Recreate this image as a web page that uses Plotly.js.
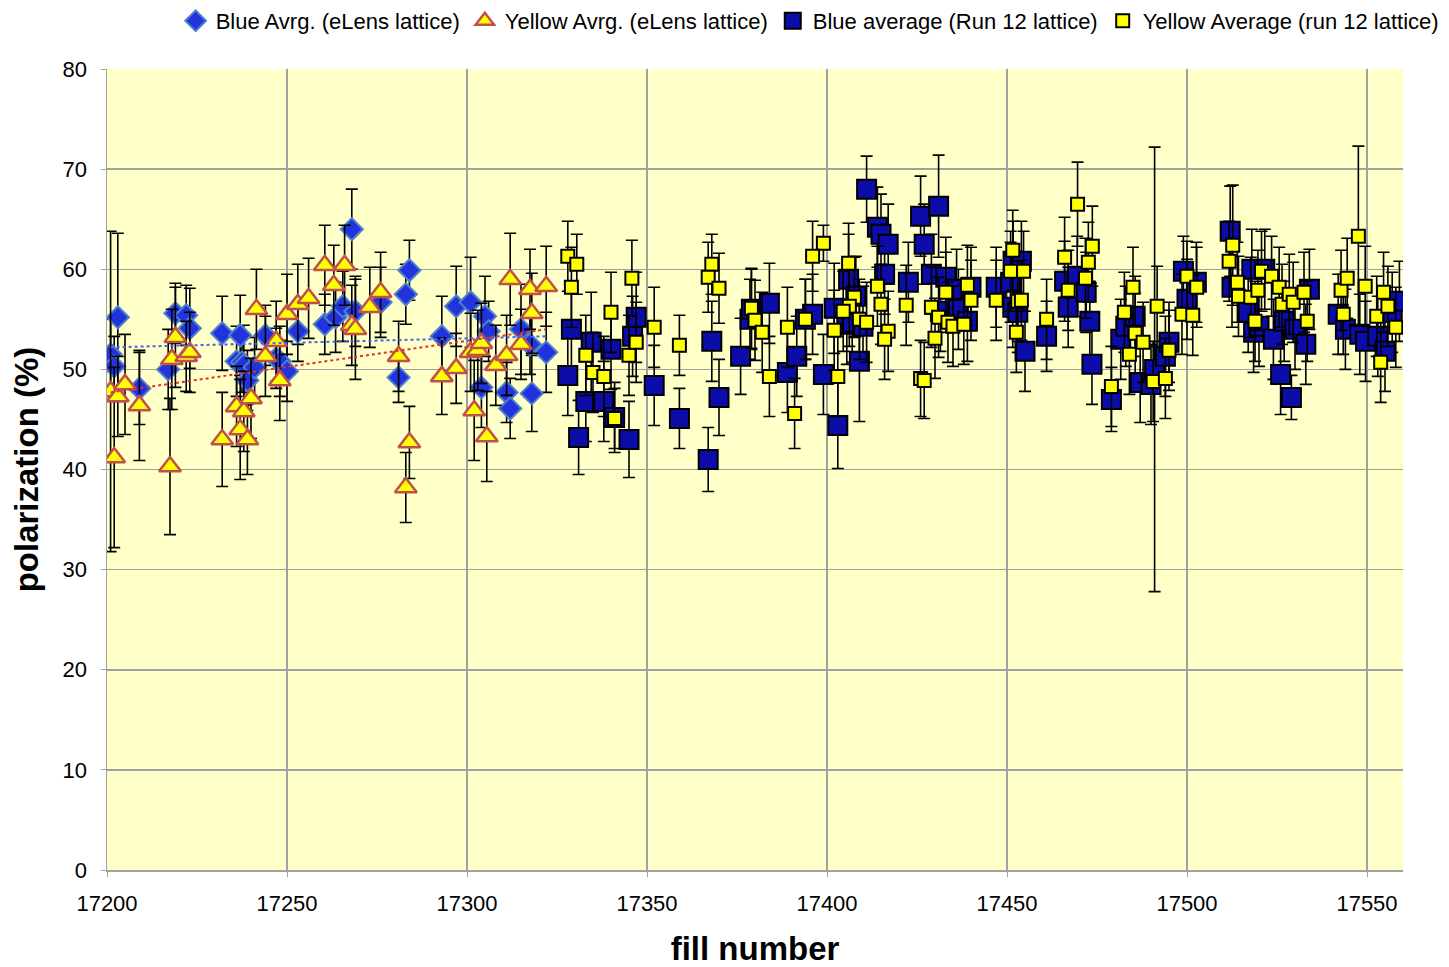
<!DOCTYPE html>
<html>
<head>
<meta charset="utf-8">
<script src="https://cdn.plot.ly/plotly-3.0.1.min.js"></script>
<style>html,body{margin:0;padding:0;background:#fff;}#chart{width:1449px;height:967px;}</style>
</head>
<body>
<div id="chart"></div>
<script>
// Blue Avrg. (eLens lattice)
const blueElensX = [17201,17202,17203,17209,17217,17219,17222,17223,17232,17236,17237,17237.5,17238,17239,17241,17244,17247,17248,17250,17253,17260.5,17263.5,17265.5,17268,17269,17276,17281,17283,17284,17293,17297,17301,17305,17306,17304,17311,17312,17315,17317.5,17318,17322];
const blueElensY = [51.5,50.3,55.2,48.1,50,55.6,55.4,54.1,53.6,50.8,53.4,50.7,50.4,48.9,50.2,53.4,51.1,50.8,49.8,53.8,54.5,55.2,56.3,64,55.8,56.7,49.2,57.5,59.9,53.3,56.3,56.7,55.3,53.8,48.2,47.7,46.1,54,52.5,47.6,51.7];
const blueElensErr = [3.5,3,8.4,3.6,4,3,3,4,3.7,3.5,4,3,4,3,3,3,3,3.5,3,3,3,3.5,3.5,4,3.5,3.5,2.5,3,3,4,4,4.5,4,3,4,3,3,4.5,3,3.8,4];

// Yellow Avrg. (eLens lattice)
const yellowElensX = [17201,17202,17203,17205,17209,17217.5,17218,17219,17222,17223,17232,17236,17237,17238,17239,17240,17241.5,17244,17247,17248,17250,17253,17256,17260.5,17263,17266,17268,17269,17273,17276,17281,17283,17284,17293,17297,17301,17302,17303,17304,17305.5,17308,17311,17312,17315,17317.5,17318,17322];
const yellowElensY = [47.8,41.2,47.3,48.5,46.4,40.3,51,53.2,51.3,51.7,43,46.3,44,45.8,43,47.1,56,51.3,52.8,48.9,55.5,56.5,57.1,60.4,58.4,60.4,54.4,54,56.2,57.7,51.3,38.2,42.7,49.3,50.1,51.7,45.9,51.9,52.6,43.3,50.4,51.4,59,52.5,58,55.6,58.3];
const yellowElensErr = [16,9,4,5,5.5,6.8,5,5,3.5,4,4.7,4,5,4,3.5,4,4,4,4,4,4,4,4,4,4,4,4,5,4,4,3.5,3.5,3.6,3.8,3.5,3.9,5,4,4,4.5,4,4,4.6,3.5,4,4,4];

// Blue average (Run 12 lattice)
const blueRun12X = [17328,17329,17331,17333,17334.5,17338,17340,17341,17345,17346,17347,17352,17359,17367,17368,17370,17376,17378.6,17379,17384,17389,17391.6,17394,17396,17399,17402,17403,17405.5,17406,17407,17408,17409,17410,17411,17414,17415,17416,17417,17422.6,17426,17427,17429,17431,17431.5,17433,17436,17436.5,17439,17440,17447,17451,17451.6,17451.7,17453,17454,17455,17461,17466,17467,17469.5,17472,17473,17473.6,17479,17481.6,17483,17485.6,17487,17490,17491,17494,17495,17499,17500,17502.6,17512,17512.5,17517,17518,17518.5,17520,17521.6,17524,17526,17527,17529,17530,17533,17534,17542,17544,17548,17549.6,17553,17555,17557,17559];
const blueRun12Y = [49.4,54,43.2,46.8,52.7,46.8,52,45.2,43,53.3,55.2,48.4,45.1,41,52.8,47.2,51.3,55,56,56.6,49.7,51.3,55,55.5,49.5,56.1,44.4,54.5,59,54.7,57.3,50.8,54.3,68,64.2,63.5,59.5,62.5,58.7,65.3,62.5,59.5,66.3,55.8,59.2,58,56,54.8,58.2,58.2,58.7,56.2,60.8,55.7,60.8,51.8,53.3,58.8,56.2,59.3,57.7,54.8,50.5,47,53,54.3,55.3,48.7,48.5,50,51.3,52.7,59.8,57,58.7,63.8,58.2,55.7,60,53.7,54.3,60,53,49.5,54.8,47.2,54,52.5,58,55.5,54,53.5,52.8,53.3,51.8,55.7,56.8];
const blueRun12Err = [4,4,3.7,4,5,4,4,3.5,3.8,4,4.5,4,3,3.2,4,3.8,3.8,4,4,4,4,4,4,4,4,4.5,4.3,4,4.5,4,4,6,4,3.3,4,4,4,4,4,4,4,4,5.1,4,4,4,4,4,4,4,4,4,4,4,4,4,3.5,4,4,4,4,4,4,3.2,4,4,4,4,4,22.2,4,4,3.5,4,4,4.5,4,4,4,4,4,4,4,4,4,2.2,4,4,4,4,4,4,4,4,4,4,4];

// Yellow Average (run 12 lattice)
const yellowRun12X = [17328,17330.5,17329,17333,17335,17338,17340,17341,17345,17347,17345.8,17352,17359,17368,17367,17370,17379,17380,17382,17389,17384,17391,17399,17396,17394,17402,17403,17406,17407.6,17406.2,17404.5,17409,17411,17414,17415,17417,17416,17422,17429,17431,17430,17426,17427,17433,17433.6,17435,17438,17439,17440,17447,17451.6,17451,17453,17452.6,17454.6,17454,17461,17466,17467,17469.6,17473.7,17472.6,17471.8,17479,17482.6,17485,17484,17485.6,17487.8,17491.7,17490.6,17494,17495,17498.6,17500,17502.7,17501.6,17512.7,17511.7,17514,17514.3,17517.7,17519.7,17520.7,17523.5,17525.6,17526.4,17528.4,17529.5,17532.5,17533.4,17518.9,17543.4,17542.8,17544.5,17547.6,17549.5,17552.7,17554.6,17555.8,17558,17553.8];
const yellowRun12Y = [61.3,60.5,58.2,51.4,49.7,49.3,55.7,45.1,51.4,52.7,59.1,54.2,52.4,60.5,59.2,58.1,56.1,54.9,53.7,54.2,49.3,45.6,62.6,61.3,55,53.9,49.3,60.6,57.2,56.3,55.8,55,54.7,58.3,56.5,53.8,53,56.4,56.2,55.2,53.1,49.1,48.9,57.7,54.7,54.3,54.5,58.4,56.9,56.9,61.9,59.8,56.8,53.7,59.8,56.9,55,61.2,57.9,66.5,62.3,60.7,59.1,48.3,55.7,58.2,51.5,53.6,52.7,56.3,48.8,49.1,51.9,55.5,59.3,58.2,55.4,62.4,60.8,58.7,57.3,57.2,57.9,59.8,59.3,58.2,56.5,57.5,56.7,57.7,54.8,54.8,55.5,57.9,59.1,63.3,58.3,55.3,57.7,56.3,54.2,50.7];
const yellowRun12Err = [3.5,3,4,4,4,4,4,3,4,4,3.8,4,3,3,3.5,3.5,4,4,4,4,4,3.5,1.8,3.5,4,4,4,4,4,4,4,4,4,4,4,4,4,4,4,4,4,3.8,3.8,4,4,4,4,4,4,4,4,4,4,4,4,4,4,4,4,4.2,4,4,4,4,4,4,4,4,4,4,4,4,4,4,3.5,4,4,6,4,4,4,4,4,4,4,4,4,4,4,4,4,4,4,4,4,9,4,4,4,4,4,4];

// Linear trend lines (endpoints)
const trendX = [17201, 17322];
const blueTrendY = [52.2, 53.3];
const yellowTrendY = [47.7, 54.0];

const errStyle = (arr) => ({type:'data', array: arr, visible:true, color:'#000', thickness:1.6, width:6});

const traces = [
  {x: blueElensX, y: blueElensY, type:'scatter', mode:'markers', name:'Blue Avrg. (eLens lattice)',
   marker:{symbol:'diamond', size:17, color:'#2233DD', line:{color:'#4F81C8', width:2}},
   error_y: errStyle(blueElensErr)},
  {x: yellowElensX, y: yellowElensY, type:'scatter', mode:'markers', name:'Yellow Avrg. (eLens lattice)',
   marker:{symbol:'triangle-up', size:19, color:'#FFFF00', line:{color:'#C0504D', width:2.5}},
   error_y: errStyle(yellowElensErr)},
  {x: blueRun12X, y: blueRun12Y, type:'scatter', mode:'markers', name:'Blue average (Run 12 lattice)',
   marker:{symbol:'square', size:19, color:'#0C0CA8', line:{color:'#000', width:2}},
   error_y: errStyle(blueRun12Err)},
  {x: yellowRun12X, y: yellowRun12Y, type:'scatter', mode:'markers', name:'Yellow Average (run 12 lattice)',
   marker:{symbol:'square', size:13, color:'#FFFF00', line:{color:'#000', width:2}},
   error_y: errStyle(yellowRun12Err)},
  {x: trendX, y: blueTrendY, type:'scatter', mode:'lines', showlegend:false, hoverinfo:'skip',
   line:{color:'#4466EE', width:2, dash:'dot'}},
  {x: trendX, y: yellowTrendY, type:'scatter', mode:'lines', showlegend:false, hoverinfo:'skip',
   line:{color:'#E03030', width:2, dash:'dot'}}
];

const fontFam = '"Liberation Sans", Arial, sans-serif';
const layout = {
  width:1449, height:967,
  margin:{l:107, r:46, t:69, b:97, autoexpand:false},
  paper_bgcolor:'#FFFFFF',
  plot_bgcolor:'#FFFFC8',
  font:{family:fontFam, size:21, color:'#000'},
  showlegend:true,
  legend:{orientation:'h', xref:'container', yref:'container', x:0.997, xanchor:'right', y:1.0, yanchor:'top',
          font:{family:fontFam, size:22, color:'#000'}, itemwidth:20, tracegroupgap:0, bgcolor:'rgba(0,0,0,0)'},
  xaxis:{range:[17200,17560], dtick:50, tick0:17200, tickformat:'d', showgrid:true, gridcolor:'#A0A0A0', gridwidth:1.5,
         zeroline:false, showline:true, linecolor:'#A0A0A0', linewidth:1.5,
         ticks:'outside', ticklen:5, tickcolor:'#A0A0A0', tickfont:{family:fontFam, size:22}, ticklabelstandoff:8,
         title:{text:'fill number', font:{family:fontFam, size:33, color:'#000', weight:'bold'}, standoff:24}},
  yaxis:{range:[0,80], dtick:10, showgrid:true, gridcolor:'#A0A0A0', gridwidth:1.5,
         zeroline:false, showline:true, linecolor:'#A0A0A0', linewidth:1.5,
         ticks:'outside', ticklen:5, tickcolor:'#A0A0A0', tickfont:{family:fontFam, size:22}, ticklabelstandoff:9,
         title:{text:'polarization (%)', font:{family:fontFam, size:33, color:'#000', weight:'bold'}, standoff:14}}
};

Plotly.newPlot('chart', traces, layout, {displayModeBar:false, staticPlot:true});
</script>
</body>
</html>
